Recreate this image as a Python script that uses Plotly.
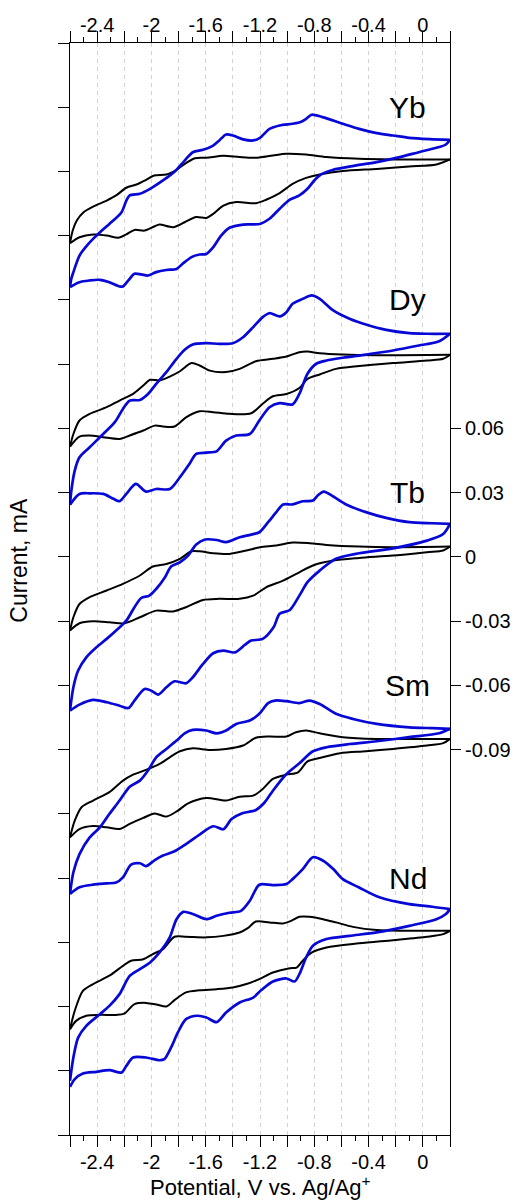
import plotly.graph_objects as go

# Cyclic voltammograms of Ln(III) solutions, stacked with vertical offsets.
# Each branch is a list of (potential / V vs. Ag/Ag+, current / uA) pairs,
# ordered from the negative vertex (-2.6 V) towards the positive vertex (0.2 V).

elements = ["Yb", "Dy", "Tb", "Sm", "Nd"]
offsets_mA = [0.18, 0.09, 0.0, -0.09, -0.18]

# ---------------- Yb ----------------
yb_black_anodic = [(-2.60, -33.5), (-2.58, -27.6), (-2.55, -22.9), (-2.50, -19.0), (-2.43, -16.4), (-2.33, -13.6),
                   (-2.26, -11.2), (-2.185, -7.6), (-2.11, -6.1), (-2.04, -3.9), (-1.98, -1.9), (-1.89, -1.4),
                   (-1.815, 0.8), (-1.745, 3.9), (-1.68, 6.2), (-1.595, 6.4), (-1.47, 7.3), (-1.35, 6.7),
                   (-1.23, 6.4), (-1.105, 7.5), (-1.005, 8.3), (-0.86, 7.9), (-0.71, 6.7), (-0.47, 5.9),
                   (-0.22, 5.6), (0.20, 5.6)]
yb_black_cathodic = [(-2.60, -33.5), (-2.53, -30.7), (-2.43, -29.4), (-2.33, -29.9), (-2.245, -31.0), (-2.185, -29.4),
                     (-2.125, -27.3), (-2.05, -27.6), (-1.98, -25.7), (-1.94, -24.8), (-1.84, -26.0), (-1.755, -23.7),
                     (-1.67, -21.3), (-1.595, -21.7), (-1.545, -19.8), (-1.47, -15.9), (-1.375, -14.3), (-1.23, -14.8),
                     (-1.155, -13.2), (-1.055, -10.1), (-0.96, -5.8), (-0.86, -3.0), (-0.76, -1.4), (-0.59, 0.2),
                     (-0.34, 1.2), (-0.10, 2.3), (0.10, 3.3), (0.20, 5.6)]
yb_blue_anodic = [(-2.60, -54.0), (-2.59, -50.0), (-2.575, -47.0), (-2.53, -39.3), (-2.48, -35.0), (-2.43, -31.5),
                  (-2.355, -27.0), (-2.31, -24.5), (-2.22, -19.0), (-2.185, -13.6), (-2.16, -11.2), (-2.085, -10.4),
                  (-2.01, -8.1), (-1.915, -4.2), (-1.82, 0.5), (-1.755, 5.1), (-1.695, 9.0), (-1.62, 10.1),
                  (-1.545, 12.1), (-1.50, 14.5), (-1.45, 17.3), (-1.40, 16.8), (-1.325, 15.0), (-1.25, 14.5),
                  (-1.20, 15.7), (-1.13, 19.9), (-1.055, 21.5), (-0.96, 22.3), (-0.90, 23.1), (-0.86, 24.6),
                  (-0.82, 26.5), (-0.74, 25.4), (-0.59, 22.3), (-0.47, 19.9), (-0.34, 17.9), (-0.22, 16.8),
                  (-0.10, 15.7), (0.05, 15.1), (0.20, 14.8)]
yb_blue_cathodic = [(-2.60, -54.0), (-2.53, -51.7), (-2.455, -50.9), (-2.38, -50.6), (-2.31, -51.7), (-2.235, -53.7),
                    (-2.21, -53.7), (-2.17, -50.9), (-2.125, -47.8), (-2.075, -48.1), (-2.025, -48.6), (-1.965, -47.0),
                    (-1.89, -46.0), (-1.815, -45.5), (-1.77, -43.1), (-1.705, -40.0), (-1.645, -38.8), (-1.595, -38.5),
                    (-1.545, -35.4), (-1.485, -29.9), (-1.425, -26.3), (-1.325, -24.8), (-1.20, -24.5), (-1.13, -22.1),
                    (-1.055, -17.4), (-0.98, -13.2), (-0.91, -11.2), (-0.85, -8.1), (-0.80, -4.2), (-0.75, -1.4),
                    (-0.66, 0.8), (-0.52, 2.5), (-0.34, 4.4), (-0.17, 6.7), (-0.03, 9.0), (0.12, 11.4),
                    (0.17, 12.6), (0.20, 14.8)]

# ---------------- Dy ----------------
dy_black_anodic = [(-2.60, -38.5), (-2.575, -32.6), (-2.53, -26.3), (-2.455, -23.2), (-2.33, -20.1), (-2.235, -17.0),
                   (-2.135, -13.9), (-2.06, -10.0), (-2.01, -7.3), (-1.94, -7.6), (-1.865, -5.8), (-1.79, -3.3),
                   (-1.705, 0.5), (-1.645, -0.6), (-1.57, -3.0), (-1.45, -3.7), (-1.35, -2.2), (-1.23, 1.4),
                   (-1.105, 2.5), (-1.005, 3.6), (-0.91, 5.6), (-0.85, 5.9), (-0.76, 5.1), (-0.59, 4.5),
                   (-0.34, 4.2), (0.20, 4.4)]
dy_black_cathodic = [(-2.60, -38.5), (-2.53, -33.8), (-2.455, -33.3), (-2.355, -34.1), (-2.235, -34.9), (-2.16, -33.3),
                     (-2.06, -31.0), (-1.975, -28.7), (-1.915, -29.1), (-1.83, -29.1), (-1.745, -24.8), (-1.645, -22.0),
                     (-1.545, -22.4), (-1.425, -23.2), (-1.265, -22.9), (-1.18, -18.5), (-1.105, -15.0), (-1.005, -13.9),
                     (-0.91, -11.1), (-0.85, -6.9), (-0.76, -4.8), (-0.64, -2.2), (-0.47, -0.9), (-0.22, 0.5),
                     (0.03, 1.7), (0.15, 2.5), (0.20, 4.4)]
dy_blue_anodic = [(-2.60, -65.6), (-2.59, -59.0), (-2.565, -49.7), (-2.53, -43.5), (-2.455, -38.8), (-2.355, -32.6),
                  (-2.27, -27.1), (-2.21, -20.9), (-2.16, -17.0), (-2.085, -16.7), (-2.025, -13.9), (-1.965, -9.2),
                  (-1.89, -3.7), (-1.815, 2.5), (-1.755, 6.7), (-1.695, 9.2), (-1.595, 9.8), (-1.50, 9.5),
                  (-1.40, 9.8), (-1.325, 12.6), (-1.25, 17.3), (-1.18, 22.0), (-1.13, 23.8), (-1.055, 22.3),
                  (-1.005, 24.3), (-0.96, 28.2), (-0.885, 30.5), (-0.82, 32.1), (-0.76, 30.5), (-0.66, 25.1),
                  (-0.54, 21.2), (-0.42, 18.5), (-0.27, 16.0), (-0.10, 14.5), (0.03, 14.2), (0.20, 14.2)]
dy_blue_cathodic = [(-2.60, -65.6), (-2.53, -60.6), (-2.455, -60.3), (-2.355, -60.6), (-2.28, -62.9), (-2.235, -64.0),
                    (-2.185, -60.6), (-2.115, -55.9), (-2.04, -59.5), (-1.965, -58.3), (-1.865, -58.3), (-1.79, -52.8),
                    (-1.72, -46.6), (-1.67, -41.9), (-1.595, -41.3), (-1.52, -40.7), (-1.45, -35.7), (-1.375, -33.3),
                    (-1.275, -32.6), (-1.205, -26.3), (-1.13, -20.1), (-1.055, -18.2), (-0.96, -18.8), (-0.91, -13.9),
                    (-0.85, -4.5), (-0.785, 0.2), (-0.71, 1.7), (-0.59, 3.0), (-0.42, 4.5), (-0.22, 6.4),
                    (-0.03, 8.7), (0.12, 10.7), (0.20, 14.2)]

# ---------------- Tb ----------------
tb_black_anodic = [(-2.60, -34.4), (-2.575, -28.2), (-2.53, -22.0), (-2.455, -18.8), (-2.33, -15.7), (-2.21, -12.6),
                   (-2.085, -8.7), (-1.99, -4.5), (-1.89, -3.3), (-1.79, -0.9), (-1.705, 2.6), (-1.645, 2.6),
                   (-1.545, 1.7), (-1.425, 1.4), (-1.30, 3.0), (-1.20, 4.5), (-1.08, 5.3), (-0.96, 6.7),
                   (-0.835, 6.4), (-0.71, 5.6), (-0.47, 4.8), (-0.22, 4.5), (0.20, 4.8)]
tb_black_cathodic = [(-2.60, -34.4), (-2.53, -31.0), (-2.43, -30.1), (-2.31, -30.5), (-2.20, -31.0), (-2.085, -28.2),
                     (-1.965, -25.1), (-1.84, -25.5), (-1.745, -23.5), (-1.62, -20.1), (-1.50, -19.6), (-1.35, -19.6),
                     (-1.25, -18.1), (-1.155, -14.2), (-1.03, -11.1), (-0.91, -7.2), (-0.81, -4.0), (-0.66, -1.7),
                     (-0.47, -0.5), (-0.22, 0.6), (0.03, 2.2), (0.15, 3.0), (0.20, 4.8)]
tb_blue_anodic = [(-2.60, -71.8), (-2.575, -60.9), (-2.54, -53.1), (-2.48, -46.9), (-2.405, -42.2), (-2.33, -38.3),
                  (-2.26, -34.4), (-2.185, -29.8), (-2.125, -23.5), (-2.075, -19.2), (-2.015, -18.1), (-1.965, -15.0),
                  (-1.90, -9.5), (-1.855, -4.5), (-1.79, -2.5), (-1.73, 0.6), (-1.67, 5.8), (-1.605, 8.1),
                  (-1.52, 7.9), (-1.45, 6.9), (-1.35, 9.2), (-1.265, 10.4), (-1.205, 11.5), (-1.14, 16.2),
                  (-1.08, 20.9), (-1.03, 24.5), (-0.96, 24.5), (-0.885, 26.0), (-0.81, 26.3), (-0.775, 28.7),
                  (-0.73, 30.5), (-0.66, 28.2), (-0.565, 24.5), (-0.42, 20.9), (-0.27, 18.2), (-0.10, 16.2),
                  (0.07, 15.7), (0.20, 15.4)]
tb_blue_cathodic = [(-2.60, -71.8), (-2.53, -69.0), (-2.43, -66.8), (-2.33, -67.9), (-2.235, -69.5), (-2.17, -70.6),
                    (-2.125, -67.1), (-2.05, -61.7), (-2.00, -62.5), (-1.95, -64.3), (-1.89, -60.9), (-1.83, -58.1),
                    (-1.745, -59.0), (-1.695, -56.2), (-1.62, -50.0), (-1.545, -45.0), (-1.47, -43.8), (-1.385, -44.6),
                    (-1.31, -41.0), (-1.265, -39.1), (-1.18, -38.3), (-1.10, -32.9), (-1.055, -26.6), (-0.98, -24.8),
                    (-0.91, -18.1), (-0.85, -11.8), (-0.76, -6.4), (-0.64, -0.9), (-0.47, 1.7), (-0.22, 4.0),
                    (0.03, 7.6), (0.15, 10.7), (0.20, 15.4)]

# ---------------- Sm ----------------
sm_black_anodic = [(-2.60, -41.0), (-2.565, -33.2), (-2.515, -26.9), (-2.43, -23.8), (-2.31, -19.9), (-2.21, -14.5),
                   (-2.135, -11.7), (-2.04, -9.5), (-1.94, -6.7), (-1.865, -3.6), (-1.79, -0.8), (-1.695, 0.6),
                   (-1.57, -0.2), (-1.45, 0.3), (-1.325, 1.9), (-1.23, 5.5), (-1.13, 6.1), (-1.005, 6.1),
                   (-0.935, 8.1), (-0.86, 8.9), (-0.76, 7.6), (-0.59, 5.8), (-0.34, 5.0), (0.20, 5.0)]
sm_black_cathodic = [(-2.60, -41.0), (-2.53, -37.1), (-2.43, -35.7), (-2.33, -36.3), (-2.235, -37.1), (-2.16, -34.7),
                     (-2.06, -31.9), (-1.975, -29.8), (-1.89, -31.3), (-1.805, -28.5), (-1.73, -25.1), (-1.595, -22.6),
                     (-1.45, -23.8), (-1.35, -22.0), (-1.25, -21.5), (-1.18, -18.4), (-1.105, -13.7), (-1.005, -11.7),
                     (-0.92, -10.6), (-0.85, -5.5), (-0.76, -3.9), (-0.61, -1.7), (-0.42, -0.8), (-0.22, 0.3),
                     (0.03, 1.9), (0.15, 3.0), (0.20, 5.0)]
sm_blue_anodic = [(-2.60, -67.4), (-2.575, -57.3), (-2.53, -48.8), (-2.455, -41.0), (-2.38, -36.3), (-2.31, -30.1),
                  (-2.235, -23.8), (-2.16, -17.3), (-2.085, -14.5), (-2.025, -9.8), (-1.965, -3.6), (-1.89, 0.3),
                  (-1.815, 4.2), (-1.755, 7.6), (-1.695, 9.2), (-1.595, 8.9), (-1.52, 7.6), (-1.45, 8.9),
                  (-1.375, 12.0), (-1.275, 13.6), (-1.205, 16.7), (-1.14, 21.7), (-1.09, 22.9), (-1.005, 22.6),
                  (-0.91, 21.7), (-0.835, 22.9), (-0.76, 21.3), (-0.64, 16.7), (-0.515, 14.3), (-0.34, 12.0),
                  (-0.10, 10.4), (0.07, 10.0), (0.20, 9.7)]
sm_blue_cathodic = [(-2.60, -67.4), (-2.53, -64.3), (-2.43, -63.1), (-2.33, -62.5), (-2.26, -62.1), (-2.21, -59.7),
                    (-2.15, -53.7), (-2.085, -53.1), (-2.04, -54.4), (-1.975, -51.6), (-1.915, -49.5), (-1.83, -47.5),
                    (-1.745, -44.1), (-1.645, -39.7), (-1.545, -35.8), (-1.47, -37.2), (-1.41, -32.4), (-1.335, -29.8),
                    (-1.23, -28.2), (-1.165, -24.6), (-1.105, -19.2), (-1.005, -11.4), (-0.91, -6.4), (-0.81, -0.8),
                    (-0.71, 1.1), (-0.54, 2.6), (-0.34, 3.9), (-0.10, 5.8), (0.12, 7.6), (0.20, 9.7)]

# ---------------- Nd ----------------
nd_black_anodic = [(-2.60, -40.6), (-2.565, -32.0), (-2.505, -22.7), (-2.43, -19.5), (-2.31, -15.6), (-2.21, -11.0),
                   (-2.15, -8.6), (-2.06, -7.9), (-1.99, -5.5), (-1.915, -3.2), (-1.83, 2.6), (-1.745, 2.6),
                   (-1.595, 2.3), (-1.47, 3.0), (-1.35, 4.6), (-1.29, 6.6), (-1.23, 9.7), (-1.13, 9.3),
                   (-1.03, 8.8), (-0.97, 10.0), (-0.91, 11.9), (-0.835, 11.9), (-0.735, 10.8), (-0.64, 9.3),
                   (-0.515, 7.2), (-0.34, 5.7), (-0.10, 5.4), (0.20, 5.4)]
nd_black_cathodic = [(-2.60, -40.6), (-2.555, -36.7), (-2.48, -34.3), (-2.38, -33.9), (-2.26, -33.9), (-2.20, -33.3),
                     (-2.125, -28.9), (-2.04, -28.3), (-1.955, -29.2), (-1.89, -30.0), (-1.83, -27.0), (-1.745, -23.4),
                     (-1.645, -22.4), (-1.52, -21.9), (-1.40, -21.1), (-1.30, -19.5), (-1.205, -17.2), (-1.105, -14.1),
                     (-0.98, -12.1), (-0.93, -11.8), (-0.885, -8.6), (-0.82, -4.8), (-0.71, -2.4), (-0.47, -0.5),
                     (-0.22, 1.0), (0.03, 2.6), (0.15, 3.8), (0.20, 5.4)]
nd_blue_anodic = [(-2.60, -64.7), (-2.575, -53.8), (-2.54, -44.5), (-2.48, -39.0), (-2.38, -33.6), (-2.31, -29.7),
                  (-2.235, -24.2), (-2.16, -15.7), (-2.085, -12.5), (-2.01, -9.4), (-1.94, -4.7), (-1.865, 2.3),
                  (-1.815, 10.8), (-1.765, 14.2), (-1.695, 13.2), (-1.595, 10.8), (-1.52, 12.4), (-1.425, 13.8),
                  (-1.34, 14.7), (-1.275, 19.4), (-1.205, 26.9), (-1.105, 26.7), (-1.005, 27.2), (-0.96, 29.5),
                  (-0.885, 34.2), (-0.81, 39.7), (-0.735, 38.1), (-0.66, 34.2), (-0.59, 29.5), (-0.47, 25.6),
                  (-0.32, 21.0), (-0.10, 17.8), (0.07, 16.6), (0.20, 15.5)]
nd_blue_cathodic = [(-2.60, -67.5), (-2.565, -63.9), (-2.505, -61.3), (-2.405, -60.5), (-2.31, -59.7), (-2.22, -60.8),
                    (-2.185, -57.7), (-2.135, -53.8), (-2.04, -53.8), (-1.94, -55.1), (-1.905, -54.6), (-1.855, -49.1),
                    (-1.805, -42.1), (-1.745, -35.9), (-1.66, -34.3), (-1.595, -35.1), (-1.52, -37.3), (-1.45, -32.8),
                    (-1.35, -28.1), (-1.25, -25.8), (-1.19, -22.3), (-1.105, -18.3), (-1.005, -16.9), (-0.945, -18.3),
                    (-0.91, -14.9), (-0.86, -7.1), (-0.81, -1.6), (-0.71, 1.5), (-0.54, 3.0), (-0.34, 4.6),
                    (-0.10, 7.7), (0.10, 10.8), (0.17, 13.2), (0.20, 15.5)]

black_branches = [
    (yb_black_anodic, yb_black_cathodic), (dy_black_anodic, dy_black_cathodic),
    (tb_black_anodic, tb_black_cathodic), (sm_black_anodic, sm_black_cathodic),
    (nd_black_anodic, nd_black_cathodic),
]
blue_branches = [
    (yb_blue_anodic, yb_blue_cathodic), (dy_blue_anodic, dy_blue_cathodic),
    (tb_blue_anodic, tb_blue_cathodic), (sm_blue_anodic, sm_blue_cathodic),
    (nd_blue_anodic, nd_blue_cathodic),
]

# Axis ticks
x_tickvals = [-2.6, -2.4, -2.2, -2.0, -1.8, -1.6, -1.4, -1.2, -1.0, -0.8, -0.6, -0.4, -0.2, 0.0, 0.2]
x_ticktext = [" ", "-2.4", " ", "-2", " ", "-1.6", " ", "-1.2", " ", "-0.8", " ", "-0.4", " ", "0", " "]
x_minor_tickvals = [-2.5, -2.3, -2.1, -1.9, -1.7, -1.5, -1.3, -1.1, -0.9, -0.7, -0.5, -0.3, -0.1, 0.1]
y_left_tickvals = [-0.27, -0.24, -0.21, -0.18, -0.15, -0.12, -0.09, -0.06, -0.03, 0.0,
                   0.03, 0.06, 0.09, 0.12, 0.15, 0.18, 0.21, 0.24]
y_right_tickvals = [-0.09, -0.06, -0.03, 0.0, 0.03, 0.06]
y_right_ticktext = ["-0.09", "-0.06", "-0.03", "0", "0.03", "0.06"]

X_RANGE = [-2.6, 0.2]
Y_RANGE = [-0.27, 0.24]

FONT = "Arial, 'Liberation Sans', sans-serif"
BLUE = "#0808d6"
BLACK = "#000000"

fig = go.Figure()


def add_branch(pairs, offset, color, width):
    fig.add_trace(go.Scatter(
        x=[p[0] for p in pairs],
        y=[p[1] / 1000.0 + offset for p in pairs],
        mode="lines",
        line=dict(color=color, width=width, shape="spline", smoothing=0.8),
        showlegend=False, hoverinfo="skip",
    ))


for (anodic, cathodic), off in zip(black_branches, offsets_mA):
    add_branch(cathodic, off, BLACK, 2.0)
    add_branch(anodic, off, BLACK, 2.0)
for (anodic, cathodic), off in zip(blue_branches, offsets_mA):
    add_branch(cathodic, off, BLUE, 2.7)
    add_branch(anodic, off, BLUE, 2.7)

# empty trace that carries the top x axis and the right y axis
fig.add_trace(go.Scatter(x=[None], y=[None], xaxis="x2", yaxis="y2",
                         showlegend=False, hoverinfo="skip"))

tick_font = dict(family=FONT, size=20, color="black")

x_common = dict(
    range=X_RANGE, tickmode="array", tickvals=x_tickvals, ticktext=x_ticktext,
    ticks="outside", ticklen=11, tickwidth=1, tickcolor="black",
    minor=dict(tickvals=x_minor_tickvals, ticks="outside", ticklen=5,
               tickwidth=1, tickcolor="black", showgrid=False),
    showline=True, linecolor="black", linewidth=1, zeroline=False,
    tickfont=tick_font, automargin=False,
)

fig.update_layout(
    width=516, height=1200,
    margin=dict(l=70, r=66, t=43, b=65, autoexpand=False),
    paper_bgcolor="white", plot_bgcolor="white",
    font=dict(family=FONT, color="black"),
    xaxis=dict(**x_common, side="bottom", showgrid=True, gridcolor="#d4d4d4",
               griddash="4px,4px", gridwidth=1, ticklabelstandoff=-2),
    xaxis2=dict(**x_common, side="top", overlaying="x", showgrid=False,
                ticklabelstandoff=-9),
    yaxis=dict(range=Y_RANGE, tickmode="array", tickvals=y_left_tickvals,
               showticklabels=False, ticks="outside", ticklen=11, tickwidth=1,
               tickcolor="black", showline=True, linecolor="black", linewidth=1,
               showgrid=False, zeroline=False, automargin=False),
    yaxis2=dict(range=Y_RANGE, overlaying="y", side="right", tickmode="array",
                tickvals=y_right_tickvals, ticktext=y_right_ticktext,
                ticks="outside", ticklen=10, tickwidth=1, tickcolor="black",
                showline=True, linecolor="black", linewidth=1,
                showgrid=False, zeroline=False, tickfont=tick_font,
                automargin=False),
)

# element labels, one per voltammogram
for name, off in zip(elements, offsets_mA):
    fig.add_annotation(x=-0.11, y=off + 0.030, xref="x", yref="y", text=name,
                       showarrow=False, xanchor="center", yanchor="middle",
                       font=dict(family=FONT, size=30, color="black"))

# axis titles
fig.add_annotation(x=0.5, y=-0.047, xref="paper", yref="paper",
                   text="Potential, V vs. Ag/Ag<sup>+</sup>", showarrow=False,
                   xanchor="center", yanchor="middle",
                   font=dict(family=FONT, size=22, color="black"))
fig.add_annotation(x=-0.134, y=0.526, xref="paper", yref="paper",
                   text="Current, mA", showarrow=False, textangle=-90,
                   xanchor="center", yanchor="middle",
                   font=dict(family=FONT, size=23, color="black"))

fig.write_html("out.html")
